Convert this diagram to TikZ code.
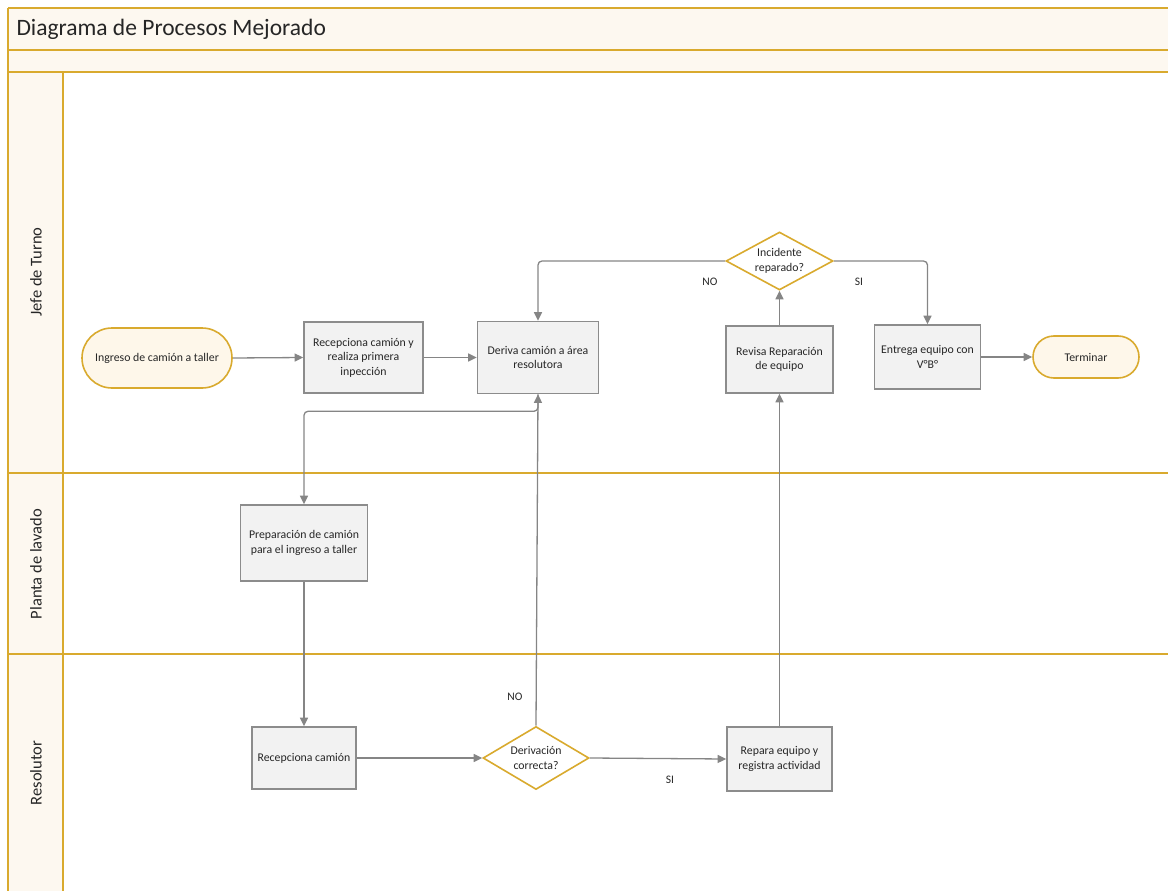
\documentclass[tikz,border=0pt]{standalone}
\usepackage{fontspec}
\setmainfont{Carlito}
\usetikzlibrary{shapes.geometric,arrows.meta}
\definecolor{gold}{HTML}{D9AA2E}
\definecolor{cream}{HTML}{FDF8F0}
\definecolor{termfill}{HTML}{FEF7EA}
\definecolor{boxfill}{HTML}{F2F2F2}
\definecolor{boxline}{HTML}{8C8C8C}
\definecolor{conn}{HTML}{858585}
\definecolor{txt}{HTML}{262626}
\tikzset{
  lane/.style={draw=gold, line width=2pt},
  proc/.style={rectangle, draw=boxline, fill=boxfill, line width=1.6pt, align=center,
    font=\fontsize{11.8}{14.5}\selectfont, text=txt, inner sep=0pt},
  term/.style={rectangle, draw=gold, fill=termfill, line width=1.6pt, align=center,
    font=\fontsize{11.8}{14.5}\selectfont, text=txt, inner sep=0pt},
  decision/.style={diamond, draw=gold, fill=white, line width=1.6pt, inner sep=0pt},
  dtext/.style={align=center, font=\fontsize{11.8}{14.5}\selectfont, text=txt, inner sep=0pt},
  arr/.style={draw=conn, line width=1.3pt, -{Triangle[length=8.5pt,width=8pt]}},
  lbl/.style={font=\fontsize{11.5}{13}\selectfont, text=txt},
  lanelbl/.style={font=\fontsize{16.5}{19}\selectfont, text=txt, rotate=90}
}
\begin{document}
\begin{tikzpicture}[x=1pt,y=-1pt]
\useasboundingbox (0,0) rectangle (1168,891);
% bands
\fill[cream] (8,8) rectangle (1168,72);
\fill[cream] (8,72) rectangle (63,891);
\draw[lane] (8,8) -- (1168,8);
\draw[lane] (8,8) -- (8,891);
\draw[lane] (8,50) -- (1168,50);
\draw[lane] (8,72) -- (1168,72);
\draw[lane] (63,72) -- (63,891);
\draw[lane] (8,473) -- (1168,473);
\draw[lane] (8,654) -- (1168,654);
\node[anchor=west, font=\fontsize{23.5}{26}\selectfont, text=txt] (title) at (13,29) {Diagrama de Procesos Mejorado};
\node[lanelbl] (l1) at (36,272) {Jefe de Turno};
\node[lanelbl] (l2) at (36,564) {Planta de lavado};
\node[lanelbl] (l3) at (36,773) {Resolutor};
% nodes
\node[term, rounded corners=30pt, minimum width=150pt, minimum height=60pt] (start) at (157,358) {Ingreso de camión a taller};
\node[proc, minimum width=119pt, minimum height=71pt] (rec1) at (363.5,357.5) {Recepciona camión y\\realiza primera\\inpección};
\node[proc, minimum width=121pt, minimum height=72pt] (deriva) at (538,357.5) {Deriva camión a área\\resolutora};
\node[decision, minimum width=107pt, minimum height=58pt] (inc) at (779.5,261) {};
\node[dtext] (inctext) at (inc.center) {Incidente\\reparado?};
\node[proc, minimum width=107pt, minimum height=67pt] (revisa) at (779.5,359.5) {Revisa Reparación\\de equipo};
\node[proc, minimum width=106pt, minimum height=64pt] (entrega) at (927.5,357) {Entrega equipo con\\V°B°};
\node[term, rounded corners=21pt, minimum width=106pt, minimum height=42pt] (fin) at (1086,357) {Terminar};
\node[proc, minimum width=127pt, minimum height=76pt] (prep) at (304,543) {Preparación de camión\\para el ingreso a taller};
\node[proc, minimum width=104pt, minimum height=62pt] (rec2) at (304,758) {Recepciona camión};
\node[decision, minimum width=106pt, minimum height=63pt] (deriv) at (536,758) {};
\node[dtext] (derivtext) at (deriv.center) {Derivación\\correcta?};
\node[proc, minimum width=105pt, minimum height=64pt] (repara) at (779.5,759) {Repara equipo y\\registra actividad};
% connectors
\draw[arr] (start.east) -- (rec1.west);
\draw[arr] (rec1.east) -- (deriva.west);
\draw[arr, rounded corners=4pt] (deriva.south) -- ++(0,17) -| (prep.north);
\draw[arr] (prep.south) -- (rec2.north);
\draw[arr] (rec2.east) -- (deriv.west);
\draw[arr] (deriv.north) -- (deriva.south);
\draw[arr] (deriv.east) -- (repara.west);
\draw[arr] (repara.north) -- (revisa.south);
\draw[arr] (revisa.north) -- (inc.south);
\draw[arr, rounded corners=4pt] (inc.west) -| (deriva.north);
\draw[arr, rounded corners=4pt] (inc.east) -| (entrega.north);
\draw[arr] (entrega.east) -- (fin.west);
% labels
\node[lbl] (no1) at (710,282) {NO};
\node[lbl] (si1) at (859,282) {SI};
\node[lbl] (no2) at (515,697) {NO};
\node[lbl] (si2) at (670,780) {SI};
\end{tikzpicture}
\end{document}
